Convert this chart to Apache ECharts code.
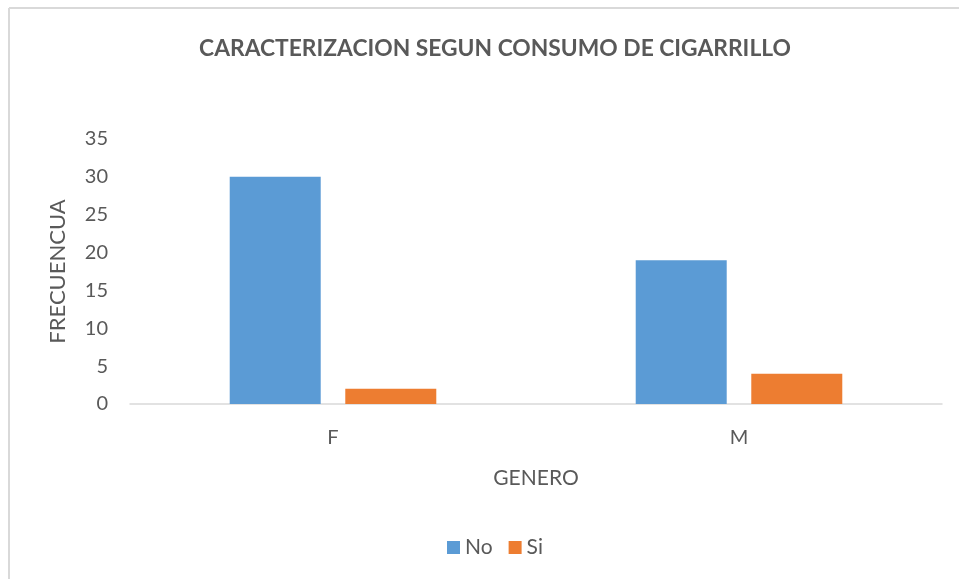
<!DOCTYPE html>
<html>
<head>
<meta charset="utf-8">
<script src="https://cdn.jsdelivr.net/npm/echarts@6/dist/echarts.min.js"></script>
<style>
  html, body { margin: 0; padding: 0; background: #fff; }
  #chart { width: 959px; height: 579px; }
</style>
</head>
<body>
<div id="chart"></div>
<script>
// datos del grafico
const generos = ['F', 'M'];
const serieNo = [30, 19];
const serieSi = [2, 4];
const ticksY = [0, 5, 10, 15, 20, 25, 30, 35];

const gris = '#595959';
const fuente = 'Lato';

let chart = echarts.init(document.getElementById('chart'));

let option = {
    backgroundColor: '#fff',
    textStyle: { fontFamily: fuente },
    title: {
        text: 'CARACTERIZACION SEGUN CONSUMO DE CIGARRILLO',
        left: 490,
        textAlign: 'center',
        top: 32,
        textStyle: { color: gris, fontSize: 22.8, fontWeight: 'bold', fontFamily: fuente }
    },
    legend: {
        data: ['No', 'Si'],
        left: 442,
        top: 532,
        itemWidth: 13,
        itemHeight: 13,
        itemGap: 16,
        icon: 'rect',
        textStyle: { color: gris, fontSize: 21, fontFamily: fuente }
    },
    graphic: [
        { type: 'line', shape: { x1: 9, y1: 8, x2: 959, y2: 8 }, style: { stroke: '#d9d9d9', lineWidth: 2 } },
        { type: 'line', shape: { x1: 9, y1: 8, x2: 9, y2: 579 }, style: { stroke: '#d9d9d9', lineWidth: 2 } }
    ],
    grid: { left: 130, right: 17, top: 139, bottom: 175, containLabel: false },
    xAxis: {
        type: 'category',
        data: generos,
        name: 'GENERO',
        nameLocation: 'middle',
        nameGap: 64,
        nameTextStyle: { color: gris, fontSize: 21, fontFamily: fuente },
        axisLine: { lineStyle: { color: '#d9d9d9', width: 1.5 } },
        axisTick: { show: false },
        axisLabel: { color: gris, fontSize: 20, margin: 24 }
    },
    yAxis: {
        type: 'value',
        min: ticksY[0],
        max: ticksY[ticksY.length - 1],
        interval: 5,
        name: 'FRECUENCUA',
        nameLocation: 'middle',
        nameGap: 61,
        nameTextStyle: { color: gris, fontSize: 22, fontFamily: fuente },
        axisLine: { show: false },
        axisTick: { show: false },
        splitLine: { show: false },
        axisLabel: { color: gris, fontSize: 20, margin: 22 }
    },
    series: [
        {
            name: 'No',
            type: 'bar',
            data: serieNo,
            barWidth: 91,
            barGap: '27%',
            itemStyle: { color: '#5b9bd5' }
        },
        {
            name: 'Si',
            type: 'bar',
            data: serieSi,
            barWidth: 91,
            barGap: '27%',
            itemStyle: { color: '#ed7d31' }
        }
    ]
};

chart.setOption(option);
</script>
</body>
</html>
